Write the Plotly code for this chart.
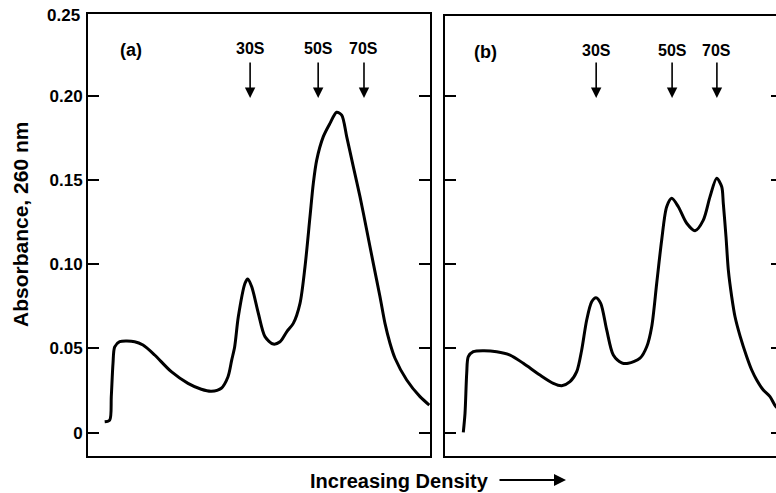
import plotly.graph_objects as go

# ---- data (x: relative position along gradient, 0-100 ; y: absorbance at 260 nm)
a_x = [4.88, 6.35, 6.81, 7.31, 7.81, 9.27, 13.65, 16.08, 19.50, 24.36, 29.24, 33.13,
       36.05, 38.98, 40.94, 42.02, 42.89, 43.95, 45.91, 46.70, 47.87, 49.80, 51.75,
       54.18, 56.14, 58.10, 60.03, 61.99, 63.45, 64.91, 65.88, 66.87, 68.80, 70.76,
       72.69, 74.18, 75.64, 77.57, 79.53, 81.49, 83.42, 85.38, 86.84, 88.30, 89.77,
       93.19, 97.08, 99.80]
a_y = [0.0065, 0.0075, 0.0214, 0.0412, 0.0510, 0.0540, 0.0540, 0.0520, 0.0461, 0.0362,
       0.0293, 0.0258, 0.0246, 0.0264, 0.0332, 0.0431, 0.0510, 0.0688, 0.0887, 0.0912,
       0.0866, 0.0709, 0.0570, 0.0526, 0.0540, 0.0599, 0.0649, 0.0768, 0.0985, 0.1282,
       0.1480, 0.1618, 0.1757, 0.1836, 0.1902, 0.1885, 0.1757, 0.1579, 0.1401, 0.1203,
       0.1005, 0.0807, 0.0649, 0.0531, 0.0442, 0.0313, 0.0214, 0.0164]

b_x = [5.35, 5.85, 6.35, 6.81, 8.27, 11.20, 15.12, 19.01, 22.89, 27.78, 31.67, 34.12,
       36.55, 38.51, 39.97, 41.43, 42.89, 44.15, 45.53, 47.28, 49.21, 51.67, 53.60,
       57.02, 58.98, 60.44, 61.90, 63.36, 64.82, 66.29, 68.22, 70.67, 73.10, 75.53,
       77.49, 79.44, 80.91, 81.37, 82.16, 82.84, 83.83, 84.80, 86.26, 88.22, 89.68,
       91.14, 93.07, 95.03, 96.78, 100.0]
b_y = [0.0002, 0.0115, 0.0353, 0.0451, 0.0481, 0.0487, 0.0481, 0.0461, 0.0412, 0.0342,
       0.0293, 0.0279, 0.0303, 0.0362, 0.0491, 0.0669, 0.0777, 0.0801, 0.0768, 0.0610,
       0.0461, 0.0415, 0.0412, 0.0442, 0.0510, 0.0629, 0.0887, 0.1144, 0.1341, 0.1391,
       0.1341, 0.1243, 0.1199, 0.1262, 0.1401, 0.1510, 0.1460, 0.1361, 0.1163, 0.0966,
       0.0807, 0.0688, 0.0575, 0.0451, 0.0372, 0.0313, 0.0253, 0.0214, 0.0154, 0.0110]

marker_names = ["30S", "50S", "70S"]
a_marker_x = [47.4, 67.3, 80.7]
b_marker_x = [44.2, 66.4, 79.5]

tick_vals = [0, 0.05, 0.10, 0.15, 0.20]
tick_text = ["0", "0.05", "0.10", "0.15", "0.20"]
top_label = "0.25"

W, H = 776, 493
FONT = "Liberation Sans, Arial, sans-serif"
LINE = dict(color="black", width=3, shape="spline", smoothing=0.8)

fig = go.Figure()
fig.add_trace(go.Scatter(x=a_x, y=a_y, mode="lines", line=LINE,
                         xaxis="x", yaxis="y", hoverinfo="skip"))
fig.add_trace(go.Scatter(x=b_x, y=b_y, mode="lines", line=LINE,
                         xaxis="x2", yaxis="y2", hoverinfo="skip"))
fig.add_trace(go.Scatter(x=[None], y=[None], xaxis="x2", yaxis="y3", hoverinfo="skip"))


def px_x(p):
    return p / W


def px_y(p):
    return 1 - p / H


axis_common = dict(showgrid=False, zeroline=False, linecolor="black", linewidth=2)
TF = dict(family=FONT, color="black", size=17, weight="bold")

fig.update_layout(
    width=W, height=H,
    margin=dict(l=0, r=0, t=0, b=0),
    paper_bgcolor="white", plot_bgcolor="white",
    showlegend=False,
    font=dict(family=FONT, color="black", size=17),
    xaxis=dict(domain=[px_x(88), px_x(430)], range=[0, 100], showline=True, mirror=True,
               ticks="", showticklabels=False, anchor="y", **axis_common),
    yaxis=dict(domain=[px_y(456), px_y(14)], range=[-0.01383, 0.2485], showline=True, mirror="ticks",
               ticks="inside", ticklen=11, tickwidth=1.5, tickcolor="black",
               tickvals=tick_vals, ticktext=tick_text, anchor="x",
               tickfont=TF, **axis_common),
    xaxis2=dict(domain=[px_x(445), 1], range=[0, 96.78], showline=True, mirror=True,
                ticks="", showticklabels=False, anchor="y2", **axis_common),
    yaxis2=dict(domain=[px_y(456), px_y(15.7)], range=[-0.01383, 0.2475], showline=True, mirror=False,
                ticks="inside", ticklen=11, tickwidth=1.5, tickcolor="black",
                tickvals=tick_vals, showticklabels=False, anchor="x2", **axis_common),
    yaxis3=dict(domain=[px_y(456), px_y(15.7)], range=[-0.01383, 0.2475], overlaying="y2", side="right",
                anchor="x2", showline=False, ticks="inside", ticklen=5, tickwidth=1.5, tickcolor="black",
                tickvals=tick_vals, showticklabels=False, showgrid=False, zeroline=False),
)

ann = []
ann.append(dict(text=top_label, x=px_x(82), y=px_y(15), xref="paper", yref="paper",
                xanchor="right", yanchor="middle", showarrow=False, font=TF))
ann.append(dict(text="Absorbance, 260 nm", x=px_x(20), y=px_y(225), xref="paper", yref="paper",
                textangle=-90, xanchor="center", yanchor="middle", showarrow=False,
                font=dict(size=21, weight="bold")))
ann.append(dict(text="Increasing Density", x=px_x(400), y=px_y(481), xref="paper", yref="paper",
                xanchor="center", yanchor="middle", showarrow=False,
                font=dict(size=20, weight="bold")))
ann.append(dict(text="", x=px_x(566), y=px_y(480), xref="paper", yref="paper",
                ax=-68, ay=0, showarrow=True, arrowhead=2, arrowsize=1.2, arrowwidth=2, arrowcolor="black"))
ann.append(dict(text="(a)", x=px_x(131), y=px_y(50), xref="paper", yref="paper",
                xanchor="center", yanchor="middle", showarrow=False, font=dict(size=18, weight="bold")))
ann.append(dict(text="(b)", x=px_x(485), y=px_y(52), xref="paper", yref="paper",
                xanchor="center", yanchor="middle", showarrow=False, font=dict(size=18, weight="bold")))

for xr, mx, ly in (("x", a_marker_x, 49), ("x2", b_marker_x, 51)):
    for name, xv in zip(marker_names, mx):
        ann.append(dict(text=name, x=xv, y=px_y(ly), xref=xr, yref="paper",
                        xanchor="center", yanchor="middle", showarrow=False,
                        font=dict(size=16, weight="bold")))
        ann.append(dict(text="", x=xv, y=px_y(98), xref=xr, yref="paper",
                        ax=0, ay=-37, showarrow=True, arrowhead=2, arrowsize=1.3, arrowwidth=1.6,
                        arrowcolor="black"))

fig.update_layout(annotations=ann)
fig.write_html("out.html")
